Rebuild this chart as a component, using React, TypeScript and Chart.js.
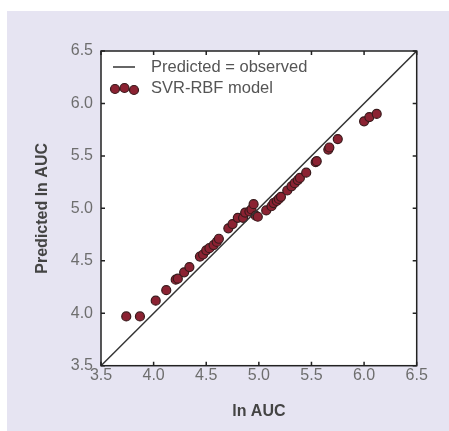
import React, { useEffect, useRef } from "react";
import { Chart, registerables } from "chart.js";

Chart.register(...registerables);

const observedLnAUC = [
  3.74, 3.87, 4.02, 4.12, 4.21, 4.23, 4.29, 4.34, 4.44, 4.47, 4.5, 4.53, 4.57, 4.6, 4.62,
  4.71, 4.75, 4.8, 4.85, 4.87, 4.91, 4.93, 4.95, 4.97, 4.99, 5.07, 5.12, 5.14, 5.17, 5.19,
  5.21, 5.27, 5.31, 5.34, 5.37, 5.39, 5.45, 5.54, 5.55, 5.66, 5.67, 5.75, 6.0, 6.05, 6.12,
];
const predictedLnAUC = [
  3.97, 3.97, 4.12, 4.22, 4.32, 4.33, 4.39, 4.44, 4.54, 4.56, 4.6, 4.62, 4.65, 4.68, 4.71,
  4.81, 4.85, 4.91, 4.91, 4.96, 4.97, 4.99, 5.04, 4.93, 4.92, 4.98, 5.02, 5.05, 5.07, 5.09,
  5.11, 5.17, 5.21, 5.24, 5.27, 5.29, 5.34, 5.44, 5.45, 5.56, 5.58, 5.66, 5.83, 5.87, 5.9,
];
const identityLine = [3.5, 6.5];
const tickValues = [3.5, 4.0, 4.5, 5.0, 5.5, 6.0, 6.5];
const legendLabels = ["Predicted = observed", "SVR-RBF model"];
const xTitle = "ln AUC";
const yTitle = "Predicted ln AUC";

const FONT = "'Liberation Sans', Arial, Helvetica, sans-serif";
const POINT_FILL = "#8b2232";
const POINT_BORDER = "#3a1a1c";

const framePlugin = {
  id: "frame",
  beforeDraw(chart: any) {
    const { ctx, chartArea } = chart;
    ctx.save();
    ctx.fillStyle = "#ffffff";
    ctx.fillRect(chartArea.left, chartArea.top, chartArea.right - chartArea.left, chartArea.bottom - chartArea.top);
    ctx.restore();
  },
  afterDraw(chart: any) {
    const { ctx, chartArea, scales } = chart;
    const { left, right, top, bottom } = chartArea;
    ctx.save();
    ctx.strokeStyle = "#222222";
    ctx.lineWidth = 1.5;
    ctx.strokeRect(left, top, right - left, bottom - top);
    ctx.lineWidth = 1.5;
    const tl = 4;
    tickValues.forEach((v) => {
      const x = scales.x.getPixelForValue(v);
      const y = scales.y.getPixelForValue(v);
      ctx.beginPath();
      ctx.moveTo(x, bottom);
      ctx.lineTo(x, bottom - tl);
      ctx.moveTo(x, top);
      ctx.lineTo(x, top + tl);
      ctx.moveTo(left, y);
      ctx.lineTo(left + tl, y);
      ctx.moveTo(right, y);
      ctx.lineTo(right - tl, y);
      ctx.stroke();
    });
    // legend
    ctx.strokeStyle = "#333333";
    ctx.lineWidth = 1.5;
    ctx.beginPath();
    ctx.moveTo(left + 12, top + 16);
    ctx.lineTo(left + 34, top + 16);
    ctx.stroke();
    const dots = [
      [left + 14, top + 38],
      [left + 23.5, top + 37],
      [left + 33, top + 39],
    ];
    dots.forEach(([dx, dy]) => {
      ctx.beginPath();
      ctx.arc(dx, dy, 4.5, 0, Math.PI * 2);
      ctx.fillStyle = POINT_FILL;
      ctx.fill();
      ctx.strokeStyle = POINT_BORDER;
      ctx.lineWidth = 1.2;
      ctx.stroke();
    });
    ctx.fillStyle = "#555555";
    ctx.font = `16.5px ${FONT}`;
    ctx.textBaseline = "middle";
    ctx.textAlign = "left";
    ctx.fillText(legendLabels[0], left + 50, top + 16);
    ctx.fillText(legendLabels[1], left + 50, top + 37);
    ctx.restore();
  },
};

export default function App() {
  const canvasRef = useRef<HTMLCanvasElement | null>(null);

  useEffect(() => {
    const canvas = canvasRef.current;
    if (!canvas) return;
    const chart = new Chart(canvas, {
      type: "scatter",
      data: {
        datasets: [
          {
            type: "line",
            label: legendLabels[0],
            data: identityLine.map((v) => ({ x: v, y: v })),
            borderColor: "#333333",
            borderWidth: 1.5,
            pointRadius: 0,
            fill: false,
          },
          {
            label: legendLabels[1],
            data: observedLnAUC.map((x, i) => ({ x, y: predictedLnAUC[i] })),
            backgroundColor: POINT_FILL,
            borderColor: POINT_BORDER,
            borderWidth: 1.2,
            pointRadius: 4.5,
          },
        ],
      },
      options: {
        responsive: false,
        animation: false,
        layout: { padding: { left: 0, right: 32.3, top: 51, bottom: 0 } },
        plugins: { legend: { display: false }, tooltip: { enabled: false } },
        scales: {
          x: {
            type: "linear",
            min: 3.5,
            max: 6.5,
            afterFit: (s: any) => {
              s.height = 65.3;
            },
            afterBuildTicks: (s: any) => {
              s.ticks = tickValues.map((v) => ({ value: v }));
            },
            grid: { display: false, drawTicks: false },
            border: { display: false },
            ticks: {
              padding: 0,
              color: "#6e6e6e",
              font: { family: FONT, size: 16 },
              callback: (v: any) => Number(v).toFixed(1),
              maxRotation: 0,
            },
            title: {
              display: true,
              text: xTitle,
              color: "#444444",
              font: { family: FONT, size: 16, weight: "bold" },
              padding: { top: 0, bottom: 9.4 },
            },
          },
          y: {
            type: "linear",
            min: 3.5,
            max: 6.5,
            afterFit: (s: any) => {
              s.width = 101;
            },
            afterBuildTicks: (s: any) => {
              s.ticks = tickValues.map((v) => ({ value: v }));
            },
            grid: { display: false, drawTicks: false },
            border: { display: false },
            ticks: {
              padding: 8,
              color: "#6e6e6e",
              font: { family: FONT, size: 16 },
              callback: (v: any) => Number(v).toFixed(1),
            },
            title: {
              display: true,
              text: yTitle,
              color: "#444444",
              font: { family: FONT, size: 16, weight: "bold" },
              padding: { top: 33.4, bottom: 0 },
            },
          },
        },
      },
      plugins: [framePlugin],
    } as any);
    return () => chart.destroy();
  }, []);

  return (
    <div style={{ position: "fixed", left: 0, top: 0, width: 449, height: 431, background: "#ffffff" }}>
      <div style={{ position: "absolute", left: 7, top: 11, right: 0, bottom: 0, background: "#e6e4f2" }} />
      <canvas ref={canvasRef} width={449} height={431} style={{ position: "absolute", left: 0, top: 0, width: 449, height: 431 }} />
    </div>
  );
}
